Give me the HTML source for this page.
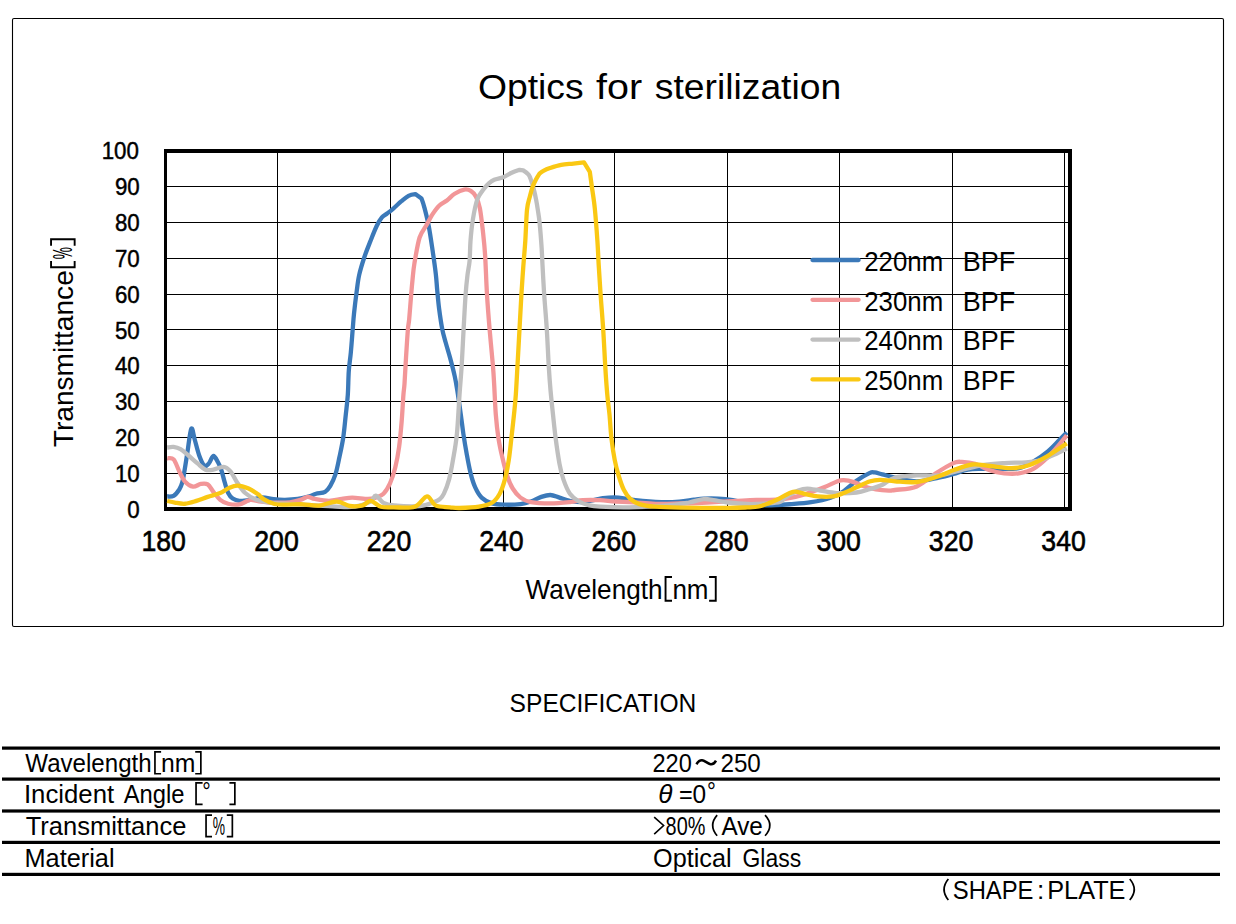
<!DOCTYPE html>
<html><head><meta charset="utf-8"><title>Optics for sterilization</title>
<style>html,body{margin:0;padding:0;background:#fff;}body{width:1236px;height:924px;position:relative;overflow:hidden;font-family:"Liberation Sans",sans-serif;}</style>
</head><body>
<svg width="1236" height="924" viewBox="0 0 1236 924" style="position:absolute;left:0;top:0">
<rect x="12.5" y="18.5" width="1211" height="608" rx="1.5" fill="#fff" stroke="#000" stroke-width="1.1"/>
<g fill="#000" shape-rendering="crispEdges"><rect x="166" y="186" width="902" height="1"/><rect x="166" y="222" width="902" height="1"/><rect x="166" y="258" width="902" height="1"/><rect x="166" y="294" width="902" height="1"/><rect x="166" y="329" width="902" height="1"/><rect x="166" y="365" width="902" height="1"/><rect x="166" y="401" width="902" height="1"/><rect x="166" y="437" width="902" height="1"/><rect x="166" y="473" width="902" height="1"/><rect x="277" y="152" width="1" height="355"/><rect x="390" y="152" width="1" height="355"/><rect x="503" y="152" width="1" height="355"/><rect x="614" y="152" width="1" height="355"/><rect x="727" y="152" width="1" height="355"/><rect x="839" y="152" width="1" height="355"/><rect x="952" y="152" width="1" height="355"/><rect x="1064" y="152" width="1" height="355"/></g>
<g fill="#000" shape-rendering="crispEdges"><rect x="164" y="149" width="908" height="4"/><rect x="164" y="507" width="908" height="4"/><rect x="164" y="149" width="3" height="361"/><rect x="1068" y="149" width="4" height="361"/></g>
<g><path d="M167.20,496.50 C168.27,496.38 171.58,496.97 173.60,495.80 C175.62,494.63 177.87,491.68 179.30,489.50 C180.73,487.32 181.35,485.72 182.20,482.70 C183.05,479.68 183.55,476.32 184.40,471.40 C185.25,466.48 186.16,460.31 187.30,453.20 C188.44,446.09 190.02,431.03 191.25,428.75 C192.48,426.47 193.38,435.04 194.70,439.50 C196.02,443.96 197.60,451.13 199.20,455.50 C200.80,459.87 202.68,464.38 204.30,465.70 C205.92,467.02 207.38,465.02 208.90,463.40 C210.42,461.78 211.88,456.18 213.40,456.00 C214.92,455.82 216.67,459.93 218.00,462.30 C219.33,464.67 220.27,466.80 221.40,470.20 C222.53,473.60 223.67,478.90 224.80,482.70 C225.93,486.50 226.88,490.35 228.20,493.00 C229.52,495.65 230.82,497.28 232.70,498.60 C234.58,499.92 236.47,500.70 239.50,500.90 C242.53,501.10 247.10,500.37 250.90,499.80 C254.70,499.23 258.52,497.60 262.30,497.50 C266.08,497.40 269.82,498.82 273.60,499.20 C277.38,499.58 280.97,499.85 285.00,499.80 C289.03,499.75 293.72,499.48 297.80,498.90 C301.88,498.32 306.47,497.17 309.50,496.30 C312.53,495.43 313.40,494.45 316.00,493.70 C318.60,492.95 322.72,493.10 325.10,491.80 C327.48,490.50 328.57,488.83 330.30,485.90 C332.03,482.97 333.98,478.97 335.50,474.20 C337.02,469.43 338.12,463.35 339.40,457.30 C340.68,451.25 342.13,445.03 343.20,437.90 C344.27,430.77 345.03,421.65 345.80,414.50 C346.57,407.35 347.30,402.27 347.80,395.00 C348.30,387.73 348.30,377.95 348.80,370.90 C349.30,363.85 350.15,359.62 350.80,352.70 C351.45,345.78 352.17,335.88 352.70,329.40 C353.23,322.92 353.35,320.03 354.00,313.80 C354.65,307.57 355.73,298.48 356.60,292.00 C357.47,285.52 357.90,280.73 359.20,274.90 C360.50,269.07 362.55,262.58 364.40,257.00 C366.25,251.42 368.23,246.60 370.30,241.40 C372.37,236.20 374.87,229.80 376.80,225.80 C378.73,221.80 380.18,219.45 381.90,217.40 C383.62,215.35 385.15,215.02 387.10,213.50 C389.05,211.98 391.22,210.35 393.60,208.30 C395.98,206.25 398.92,203.28 401.40,201.20 C403.88,199.12 406.18,196.98 408.50,195.80 C410.82,194.62 415.30,194.10 415.30,194.10 C415.30,194.10 421.50,198.60 421.50,198.60 C421.50,198.60 423.20,203.07 424.40,207.60 C425.60,212.13 427.33,218.65 428.70,225.80 C430.07,232.95 431.42,242.48 432.60,250.50 C433.78,258.52 435.03,267.32 435.80,273.90 C436.57,280.48 436.65,284.22 437.20,290.00 C437.75,295.78 438.25,302.03 439.10,308.60 C439.95,315.17 441.22,323.78 442.30,329.40 C443.38,335.02 444.30,337.55 445.60,342.30 C446.90,347.05 448.58,352.27 450.10,357.90 C451.62,363.53 453.50,370.68 454.70,376.10 C455.90,381.52 456.28,384.00 457.30,390.40 C458.32,396.80 459.78,407.23 460.80,414.50 C461.82,421.77 462.43,427.52 463.40,434.00 C464.37,440.48 465.42,446.92 466.60,453.40 C467.78,459.88 469.08,467.27 470.50,472.90 C471.92,478.53 473.25,483.08 475.10,487.20 C476.95,491.32 478.80,494.90 481.60,497.60 C484.40,500.30 488.02,502.22 491.90,503.40 C495.78,504.58 500.13,504.58 504.90,504.70 C509.67,504.82 516.17,504.63 520.50,504.10 C524.83,503.57 527.43,502.70 530.90,501.50 C534.37,500.30 538.05,497.98 541.30,496.90 C544.55,495.82 547.37,494.88 550.40,495.00 C553.43,495.12 556.25,496.63 559.50,497.60 C562.75,498.57 566.00,500.05 569.90,500.80 C573.80,501.55 577.38,502.53 582.90,502.10 C588.42,501.67 597.05,498.95 603.00,498.20 C608.95,497.45 613.18,497.27 618.60,497.60 C624.02,497.93 628.37,499.45 635.50,500.20 C642.63,500.95 654.08,501.87 661.40,502.10 C668.72,502.33 673.97,502.02 679.40,501.60 C684.83,501.18 689.95,500.10 694.00,499.60 C698.05,499.10 699.65,498.77 703.70,498.60 C707.75,498.43 713.45,498.35 718.30,498.60 C723.15,498.85 727.52,499.28 732.80,500.10 C738.08,500.92 744.48,502.62 750.00,503.50 C755.52,504.38 758.93,505.30 765.90,505.40 C772.87,505.50 784.25,504.63 791.80,504.10 C799.35,503.57 804.73,503.27 811.20,502.20 C817.67,501.13 825.20,499.53 830.60,497.70 C836.00,495.87 839.28,494.02 843.60,491.20 C847.92,488.38 852.20,483.82 856.50,480.80 C860.80,477.78 866.38,474.50 869.40,473.10 C872.42,471.70 872.43,472.18 874.60,472.40 C876.77,472.62 879.00,473.53 882.40,474.40 C885.80,475.27 889.27,476.45 895.00,477.60 C900.73,478.75 909.52,481.30 916.80,481.30 C924.08,481.30 932.62,478.82 938.70,477.60 C944.78,476.38 948.45,475.33 953.30,474.00 C958.15,472.67 962.95,470.45 967.80,469.60 C972.65,468.75 977.55,469.02 982.40,468.90 C987.25,468.78 990.83,469.02 996.90,468.90 C1002.97,468.78 1012.73,469.42 1018.80,468.20 C1024.87,466.98 1028.45,464.40 1033.30,461.60 C1038.15,458.80 1043.52,455.03 1047.90,451.40 C1052.28,447.77 1056.45,442.95 1059.60,439.80 C1062.75,436.65 1065.60,433.72 1066.80,432.50" fill="none" stroke="#3B79B9" stroke-width="4.3" stroke-linejoin="round" stroke-linecap="butt"/>
<path d="M167.20,458.30 C168.27,458.48 171.58,457.22 173.60,459.40 C175.62,461.58 177.40,467.70 179.30,471.40 C181.20,475.10 182.72,479.05 185.00,481.60 C187.28,484.15 190.35,486.32 193.00,486.70 C195.65,487.08 198.45,484.28 200.90,483.90 C203.35,483.52 205.62,483.08 207.70,484.40 C209.78,485.72 211.32,489.23 213.40,491.80 C215.48,494.37 217.73,497.81 220.20,499.80 C222.67,501.79 224.98,503.00 228.20,503.75 C231.42,504.50 235.83,504.94 239.50,504.30 C243.17,503.66 246.97,500.40 250.20,499.90 C253.43,499.40 254.77,500.85 258.90,501.30 C263.03,501.75 269.82,502.43 275.00,502.60 C280.18,502.77 285.63,502.80 290.00,502.30 C294.37,501.80 298.25,500.52 301.20,499.60 C304.15,498.68 305.40,496.90 307.70,496.80 C310.00,496.70 311.45,498.32 315.00,499.00 C318.55,499.68 324.52,500.92 329.00,500.90 C333.48,500.88 338.02,499.45 341.90,498.90 C345.78,498.35 347.97,497.60 352.30,497.60 C356.63,497.60 364.00,498.90 367.90,498.90 C371.80,498.90 373.10,498.47 375.70,497.60 C378.30,496.73 381.12,496.08 383.50,493.70 C385.88,491.32 388.05,487.63 390.00,483.30 C391.95,478.97 393.68,473.75 395.20,467.70 C396.72,461.65 398.02,454.78 399.10,447.00 C400.18,439.22 400.98,429.67 401.70,421.00 C402.42,412.33 402.93,401.18 403.40,395.00 C403.87,388.82 404.07,390.08 404.50,383.90 C404.93,377.72 405.43,366.98 406.00,357.90 C406.57,348.82 407.37,335.88 407.90,329.40 C408.43,322.92 408.65,324.85 409.20,319.00 C409.75,313.15 410.65,300.80 411.20,294.30 C411.75,287.80 411.97,285.13 412.50,280.00 C413.03,274.87 413.22,270.58 414.40,263.50 C415.58,256.42 417.65,243.78 419.60,237.50 C421.55,231.22 423.93,229.68 426.10,225.80 C428.27,221.92 430.43,217.55 432.60,214.20 C434.77,210.85 436.72,207.98 439.10,205.70 C441.48,203.42 444.30,202.48 446.90,200.50 C449.50,198.52 451.80,195.62 454.70,193.80 C457.60,191.98 461.62,190.08 464.30,189.60 C466.98,189.12 468.85,189.70 470.80,190.90 C472.75,192.10 474.48,193.88 476.00,196.80 C477.52,199.72 478.72,202.35 479.90,208.40 C481.08,214.45 482.23,225.33 483.10,233.10 C483.97,240.87 484.45,244.75 485.10,255.00 C485.75,265.25 486.25,282.22 487.00,294.60 C487.75,306.98 488.62,317.50 489.60,329.30 C490.58,341.10 492.13,356.12 492.90,365.40 C493.67,374.68 493.72,376.82 494.20,385.00 C494.68,393.18 495.10,405.68 495.80,414.50 C496.50,423.32 497.32,430.77 498.40,437.90 C499.48,445.03 500.78,450.82 502.30,457.30 C503.82,463.78 505.77,471.60 507.50,476.80 C509.23,482.00 510.53,485.03 512.70,488.50 C514.87,491.97 517.47,495.33 520.50,497.60 C523.53,499.87 525.92,501.13 530.90,502.10 C535.88,503.07 543.90,503.40 550.40,503.40 C556.90,503.40 564.48,502.63 569.90,502.10 C575.32,501.57 577.88,500.52 582.90,500.20 C587.92,499.88 594.48,499.98 600.00,500.20 C605.52,500.42 609.02,501.07 616.00,501.50 C622.98,501.93 634.57,502.38 641.90,502.80 C649.23,503.22 653.65,503.88 660.00,504.00 C666.35,504.12 672.17,503.75 680.00,503.50 C687.83,503.25 696.58,502.98 707.00,502.50 C717.42,502.02 734.17,501.02 742.50,500.60 C750.83,500.18 751.33,500.17 757.00,500.00 C762.67,499.83 771.78,499.77 776.50,499.60 C781.22,499.43 780.60,499.87 785.30,499.00 C790.00,498.13 798.23,496.35 804.70,494.40 C811.17,492.45 818.70,489.45 824.10,487.30 C829.50,485.15 833.85,482.68 837.10,481.50 C840.35,480.32 840.80,480.10 843.60,480.20 C846.40,480.30 850.67,481.13 853.90,482.10 C857.13,483.07 859.33,484.80 863.00,486.00 C866.67,487.20 871.58,488.53 875.90,489.30 C880.22,490.07 885.72,490.48 888.90,490.60 C892.08,490.72 890.35,490.70 895.00,490.00 C899.65,489.30 910.00,489.18 916.80,486.40 C923.60,483.62 929.72,477.18 935.80,473.30 C941.88,469.42 948.93,465.00 953.30,463.10 C957.67,461.20 958.37,461.78 962.00,461.90 C965.63,462.02 970.48,462.40 975.10,463.80 C979.72,465.20 984.85,468.72 989.70,470.30 C994.55,471.88 999.35,472.80 1004.20,473.30 C1009.05,473.80 1013.95,474.03 1018.80,473.30 C1023.65,472.57 1028.45,471.58 1033.30,468.90 C1038.15,466.22 1043.52,461.33 1047.90,457.20 C1052.28,453.07 1056.45,447.73 1059.60,444.10 C1062.75,440.47 1065.60,436.85 1066.80,435.40" fill="none" stroke="#F29698" stroke-width="4.3" stroke-linejoin="round" stroke-linecap="butt"/>
<path d="M167.20,447.50 C168.27,447.40 171.38,446.62 173.60,446.90 C175.82,447.18 178.03,447.77 180.50,449.20 C182.97,450.63 185.57,453.13 188.40,455.50 C191.23,457.87 194.65,461.03 197.50,463.40 C200.35,465.77 202.85,468.65 205.50,469.70 C208.15,470.75 210.38,470.18 213.40,469.70 C216.42,469.22 220.75,466.52 223.60,466.80 C226.45,467.08 228.22,468.75 230.50,471.40 C232.78,474.05 234.85,479.10 237.30,482.70 C239.75,486.30 241.98,490.15 245.20,493.00 C248.42,495.85 251.87,498.10 256.60,499.80 C261.33,501.50 266.37,502.45 273.60,503.20 C280.83,503.95 289.68,503.72 300.00,504.30 C310.32,504.88 326.35,506.30 335.50,506.70 C344.65,507.10 349.07,507.57 354.90,506.70 C360.73,505.83 367.03,503.35 370.50,501.50 C373.97,499.65 373.53,495.38 375.70,495.60 C377.87,495.82 380.47,501.17 383.50,502.80 C386.53,504.43 387.83,504.87 393.90,505.40 C399.97,505.93 412.97,506.65 419.90,506.00 C426.83,505.35 432.15,502.68 435.50,501.50 C438.85,500.32 438.60,500.20 440.00,498.90 C441.40,497.60 442.38,496.95 443.90,493.70 C445.42,490.45 447.58,485.03 449.10,479.40 C450.62,473.77 451.70,467.47 453.00,459.90 C454.30,452.33 455.82,444.82 456.90,434.00 C457.98,423.18 458.70,406.43 459.50,395.00 C460.30,383.57 461.02,376.35 461.70,365.40 C462.38,354.45 462.95,341.10 463.60,329.30 C464.25,317.50 464.95,303.65 465.60,294.60 C466.25,285.55 466.83,280.62 467.50,275.00 C468.17,269.38 469.10,266.58 469.60,260.90 C470.10,255.22 469.97,247.72 470.50,240.90 C471.03,234.08 471.67,226.92 472.80,220.00 C473.93,213.08 475.47,204.57 477.30,199.40 C479.13,194.23 481.83,191.70 483.80,189.00 C485.77,186.30 487.37,184.73 489.10,183.20 C490.83,181.67 491.85,180.78 494.20,179.80 C496.55,178.82 500.38,178.43 503.20,177.30 C506.02,176.17 508.37,174.25 511.10,173.00 C513.83,171.75 519.60,169.80 519.60,169.80 C519.60,169.80 523.20,170.30 523.20,170.30 C523.20,170.30 527.32,172.83 528.70,174.70 C530.08,176.57 530.65,179.05 531.50,181.50 C532.35,183.95 533.03,186.38 533.80,189.40 C534.57,192.42 535.43,196.20 536.10,199.60 C536.77,203.00 537.22,205.95 537.80,209.80 C538.38,213.65 538.97,216.43 539.60,222.70 C540.23,228.97 541.12,240.35 541.60,247.40 C542.08,254.45 542.07,257.13 542.50,265.00 C542.93,272.87 543.48,283.88 544.20,294.60 C544.92,305.32 546.05,317.50 546.80,329.30 C547.55,341.10 548.08,355.28 548.70,365.40 C549.32,375.52 549.78,381.82 550.50,390.00 C551.22,398.18 552.15,406.52 553.00,414.50 C553.85,422.48 554.52,429.68 555.60,437.90 C556.68,446.12 558.20,456.88 559.50,463.80 C560.80,470.72 561.67,474.42 563.40,479.40 C565.13,484.38 567.30,490.02 569.90,493.70 C572.50,497.38 575.75,499.55 579.00,501.50 C582.25,503.45 585.90,504.53 589.40,505.40 C592.90,506.27 593.40,506.38 600.00,506.70 C606.60,507.02 617.68,507.52 629.00,507.30 C640.32,507.08 657.90,506.20 667.90,505.40 C677.90,504.60 683.03,503.55 689.00,502.50 C694.97,501.45 699.63,499.50 703.70,499.10 C707.77,498.70 709.35,499.53 713.40,500.10 C717.45,500.67 722.33,501.85 728.00,502.50 C733.67,503.15 740.93,503.83 747.40,504.00 C753.87,504.17 761.37,503.83 766.80,503.50 C772.23,503.17 776.92,502.97 780.00,502.00 C783.08,501.03 782.25,499.60 785.30,497.70 C788.35,495.80 794.63,492.12 798.30,490.60 C801.97,489.08 803.63,488.60 807.30,488.60 C810.97,488.60 815.33,489.85 820.30,490.60 C825.27,491.35 831.07,492.78 837.10,493.10 C843.13,493.42 851.12,493.13 856.50,492.50 C861.88,491.87 865.08,490.60 869.40,489.30 C873.72,488.00 878.13,486.65 882.40,484.70 C886.67,482.75 889.27,479.15 895.00,477.60 C900.73,476.05 909.52,475.77 916.80,475.40 C924.08,475.03 931.42,476.25 938.70,475.40 C945.98,474.55 953.22,472.00 960.50,470.30 C967.78,468.60 975.12,466.40 982.40,465.20 C989.68,464.00 996.92,463.58 1004.20,463.10 C1011.48,462.62 1020.03,462.80 1026.10,462.30 C1032.17,461.80 1035.75,461.43 1040.60,460.10 C1045.45,458.77 1050.83,456.23 1055.20,454.30 C1059.57,452.37 1064.87,449.47 1066.80,448.50" fill="none" stroke="#BFBFBF" stroke-width="4.3" stroke-linejoin="round" stroke-linecap="butt"/>
<path d="M167.20,500.90 C168.47,501.18 171.83,502.12 174.80,502.60 C177.77,503.08 181.40,504.03 185.00,503.75 C188.60,503.47 192.62,502.04 196.40,500.90 C200.18,499.76 203.73,498.22 207.70,496.90 C211.67,495.58 216.78,494.42 220.20,493.00 C223.62,491.58 225.35,489.63 228.20,488.40 C231.05,487.17 233.90,485.60 237.30,485.60 C240.70,485.60 245.20,486.98 248.60,488.40 C252.00,489.82 255.13,492.27 257.70,494.10 C260.27,495.93 261.20,497.75 264.00,499.40 C266.80,501.05 270.73,503.13 274.50,504.00 C278.27,504.87 281.88,504.55 286.60,504.60 C291.32,504.65 297.40,504.13 302.80,504.30 C308.20,504.47 313.33,506.07 319.00,505.60 C324.67,505.13 331.68,501.43 336.80,501.50 C341.92,501.57 345.38,505.35 349.70,506.00 C354.02,506.65 359.23,506.27 362.70,505.40 C366.17,504.53 367.47,500.58 370.50,500.80 C373.53,501.02 377.00,505.62 380.90,506.70 C384.80,507.78 388.27,507.30 393.90,507.30 C399.53,507.30 409.18,508.53 414.70,506.70 C420.22,504.87 423.53,496.52 427.00,496.30 C430.47,496.08 431.67,503.57 435.50,505.40 C439.33,507.23 446.00,506.87 450.00,507.30 C454.00,507.73 454.67,508.10 459.50,508.00 C464.33,507.90 473.60,507.57 479.00,506.70 C484.40,505.83 488.45,504.97 491.90,502.80 C495.35,500.63 497.53,497.60 499.70,493.70 C501.87,489.80 503.38,485.03 504.90,479.40 C506.42,473.77 507.72,466.82 508.80,459.90 C509.88,452.98 510.53,445.47 511.40,437.90 C512.27,430.33 513.27,421.65 514.00,414.50 C514.73,407.35 515.22,403.18 515.80,395.00 C516.38,386.82 516.88,376.35 517.50,365.40 C518.12,354.45 518.85,341.10 519.50,329.30 C520.15,317.50 520.78,304.82 521.40,294.60 C522.02,284.38 522.55,276.95 523.20,268.00 C523.85,259.05 524.67,250.60 525.30,240.90 C525.93,231.20 526.25,217.15 527.00,209.80 C527.75,202.45 528.85,200.67 529.80,196.80 C530.75,192.93 531.65,189.52 532.70,186.60 C533.75,183.68 534.97,181.47 536.10,179.30 C537.23,177.13 539.50,173.60 539.50,173.60 C539.50,173.60 541.65,171.73 543.40,170.80 C545.15,169.87 547.03,169.00 550.00,168.00 C552.97,167.00 557.30,165.53 561.20,164.80 C565.10,164.07 569.60,164.00 573.40,163.60 C577.20,163.20 584.00,162.40 584.00,162.40 C584.00,162.40 589.80,171.80 589.80,171.80 C589.80,171.80 590.97,180.30 591.80,186.40 C592.63,192.50 593.87,199.32 594.80,208.40 C595.73,217.48 596.75,231.47 597.40,240.90 C598.05,250.33 598.17,256.05 598.70,265.00 C599.23,273.95 599.85,283.88 600.60,294.60 C601.35,305.32 602.43,317.50 603.20,329.30 C603.97,341.10 604.65,356.12 605.20,365.40 C605.75,374.68 606.07,379.23 606.50,385.00 C606.93,390.77 607.30,395.08 607.80,400.00 C608.30,404.92 608.90,408.18 609.50,414.50 C610.10,420.82 610.53,430.33 611.40,437.90 C612.27,445.47 613.50,453.63 614.70,459.90 C615.90,466.17 617.08,470.52 618.60,475.50 C620.12,480.48 621.85,485.90 623.80,489.80 C625.75,493.70 627.70,496.52 630.30,498.90 C632.90,501.28 635.30,502.80 639.40,504.10 C643.50,505.40 647.98,506.10 654.90,506.70 C661.82,507.30 668.72,507.50 680.90,507.70 C693.08,507.90 716.92,507.95 728.00,507.90 C739.08,507.85 742.23,507.63 747.40,507.40 C752.57,507.17 755.57,507.15 759.00,506.50 C762.43,505.85 764.50,504.88 768.00,503.50 C771.50,502.12 775.82,500.15 780.00,498.20 C784.18,496.25 788.98,492.53 793.10,491.80 C797.22,491.07 800.60,493.03 804.70,493.80 C808.80,494.57 812.95,495.97 817.70,496.40 C822.45,496.83 828.88,496.95 833.20,496.40 C837.52,495.85 839.72,494.62 843.60,493.10 C847.48,491.58 852.20,489.23 856.50,487.30 C860.80,485.37 865.52,482.75 869.40,481.50 C873.28,480.25 875.53,479.83 879.80,479.80 C884.07,479.77 888.83,480.93 895.00,481.30 C901.17,481.67 909.52,482.85 916.80,482.00 C924.08,481.15 932.62,478.15 938.70,476.20 C944.78,474.25 947.72,472.25 953.30,470.30 C958.88,468.35 966.13,465.22 972.20,464.50 C978.27,463.78 983.15,465.38 989.70,466.00 C996.25,466.62 1004.95,468.33 1011.50,468.20 C1018.05,468.07 1022.93,467.27 1029.00,465.20 C1035.07,463.13 1041.60,459.43 1047.90,455.80 C1054.20,452.17 1063.65,445.47 1066.80,443.40" fill="none" stroke="#FAC813" stroke-width="4.3" stroke-linejoin="round" stroke-linecap="butt"/>
</g>
<g><line x1="812.5" y1="260.0" x2="858.6" y2="260.0" stroke="#3B79B9" stroke-width="4.3" stroke-linecap="round"/><line x1="812.5" y1="299.8" x2="858.6" y2="299.8" stroke="#F29698" stroke-width="4.3" stroke-linecap="round"/><line x1="812.5" y1="339.6" x2="858.6" y2="339.6" stroke="#BFBFBF" stroke-width="4.3" stroke-linecap="round"/><line x1="812.5" y1="379.4" x2="858.6" y2="379.4" stroke="#FAC813" stroke-width="4.3" stroke-linecap="round"/></g>
<g fill="#000"><rect x="2" y="746.50" width="1218" height="3.2"/><rect x="2" y="777.50" width="1218" height="3.2"/><rect x="2" y="809.40" width="1218" height="3.2"/><rect x="2" y="840.80" width="1218" height="3.2"/><rect x="2" y="872.80" width="1218" height="3.2"/></g>
<path d="M696.4,764.2 C698.3,761.3 700.3,760.2 702,760.3 C704.6,760.4 707.5,763.6 710.5,764.2 C712.8,764.6 714.7,763.1 716,760.7" fill="none" stroke="#000" stroke-width="2.5" stroke-linecap="butt"/>
<path d="M717.15,815.15 Q708.15,825.45 717.15,835.75" fill="none" stroke="#000" stroke-width="1.7"/><path d="M765.05,815.15 Q774.65,825.45 765.05,835.75" fill="none" stroke="#000" stroke-width="1.7"/><path d="M948.35,878.95 Q939.75,889.45 948.35,899.95" fill="none" stroke="#000" stroke-width="1.7"/><path d="M1129.75,878.95 Q1138.75,889.45 1129.75,899.95" fill="none" stroke="#000" stroke-width="1.7"/>
<path d="M672.00,576.95 H665.55 V600.75 H672.00" fill="none" stroke="#000" stroke-width="1.9" stroke-linejoin="miter"/><path d="M709.10,576.95 H715.75 V600.75 H709.10" fill="none" stroke="#000" stroke-width="1.9" stroke-linejoin="miter"/><path d="M51.05,261.00 V267.25 H74.65 V261.00" fill="none" stroke="#000" stroke-width="1.9" stroke-linejoin="miter"/><path d="M51.05,245.80 V239.25 H74.65 V245.80" fill="none" stroke="#000" stroke-width="1.9" stroke-linejoin="miter"/><path d="M202.60,782.95 H196.05 V804.35 H202.60" fill="none" stroke="#000" stroke-width="1.7" stroke-linejoin="miter"/><path d="M229.40,782.95 H234.85 V804.35 H229.40" fill="none" stroke="#000" stroke-width="1.7" stroke-linejoin="miter"/><path d="M161.10,751.95 H154.95 V773.75 H161.10" fill="none" stroke="#000" stroke-width="1.7" stroke-linejoin="miter"/><path d="M195.20,751.95 H200.85 V773.75 H195.20" fill="none" stroke="#000" stroke-width="1.7" stroke-linejoin="miter"/><path d="M212.00,815.05 H206.05 V836.65 H212.00" fill="none" stroke="#000" stroke-width="1.7" stroke-linejoin="miter"/><path d="M226.80,815.05 H232.35 V836.65 H226.80" fill="none" stroke="#000" stroke-width="1.7" stroke-linejoin="miter"/>
<path d="M654.2,817.1 L663.6,825.5 L654.2,834.1" fill="none" stroke="#000" stroke-width="1.6" stroke-linejoin="miter"/>
<g fill="#000"><text transform="translate(478.00 98.60) scale(1.0505 1)" style="font-family:'Liberation Sans', sans-serif;font-size:35.5px">Optics</text><text transform="translate(596.00 98.60) scale(1.1122 1)" style="font-family:'Liberation Sans', sans-serif;font-size:35.5px">for</text><text transform="translate(654.85 98.60) scale(1.0500 1)" style="font-family:'Liberation Sans', sans-serif;font-size:35.5px">sterilization</text><text transform="translate(127.30 517.60) scale(0.9500 1)" style="font-family:'Liberation Sans', sans-serif;font-size:23.5px;stroke:#000;stroke-width:0.45px">0</text><text transform="translate(114.95 481.79) scale(0.9500 1)" style="font-family:'Liberation Sans', sans-serif;font-size:23.5px;stroke:#000;stroke-width:0.45px">10</text><text transform="translate(114.95 445.97) scale(0.9500 1)" style="font-family:'Liberation Sans', sans-serif;font-size:23.5px;stroke:#000;stroke-width:0.45px">20</text><text transform="translate(114.95 410.16) scale(0.9500 1)" style="font-family:'Liberation Sans', sans-serif;font-size:23.5px;stroke:#000;stroke-width:0.45px">30</text><text transform="translate(114.95 374.34) scale(0.9500 1)" style="font-family:'Liberation Sans', sans-serif;font-size:23.5px;stroke:#000;stroke-width:0.45px">40</text><text transform="translate(114.95 338.52) scale(0.9500 1)" style="font-family:'Liberation Sans', sans-serif;font-size:23.5px;stroke:#000;stroke-width:0.45px">50</text><text transform="translate(114.95 302.71) scale(0.9500 1)" style="font-family:'Liberation Sans', sans-serif;font-size:23.5px;stroke:#000;stroke-width:0.45px">60</text><text transform="translate(114.95 266.89) scale(0.9500 1)" style="font-family:'Liberation Sans', sans-serif;font-size:23.5px;stroke:#000;stroke-width:0.45px">70</text><text transform="translate(114.95 231.08) scale(0.9500 1)" style="font-family:'Liberation Sans', sans-serif;font-size:23.5px;stroke:#000;stroke-width:0.45px">80</text><text transform="translate(114.95 195.26) scale(0.9500 1)" style="font-family:'Liberation Sans', sans-serif;font-size:23.5px;stroke:#000;stroke-width:0.45px">90</text><text transform="translate(101.65 159.45) scale(0.9500 1)" style="font-family:'Liberation Sans', sans-serif;font-size:23.5px;stroke:#000;stroke-width:0.45px">100</text><text transform="translate(141.38 550.50) scale(0.9300 1)" style="font-family:'Liberation Sans', sans-serif;font-size:28.7px;stroke:#000;stroke-width:0.6px">180</text><text transform="translate(254.28 550.50) scale(0.9300 1)" style="font-family:'Liberation Sans', sans-serif;font-size:28.7px;stroke:#000;stroke-width:0.6px">200</text><text transform="translate(366.71 550.50) scale(0.9300 1)" style="font-family:'Liberation Sans', sans-serif;font-size:28.7px;stroke:#000;stroke-width:0.6px">220</text><text transform="translate(479.14 550.50) scale(0.9300 1)" style="font-family:'Liberation Sans', sans-serif;font-size:28.7px;stroke:#000;stroke-width:0.6px">240</text><text transform="translate(591.57 550.50) scale(0.9300 1)" style="font-family:'Liberation Sans', sans-serif;font-size:28.7px;stroke:#000;stroke-width:0.6px">260</text><text transform="translate(704.00 550.50) scale(0.9300 1)" style="font-family:'Liberation Sans', sans-serif;font-size:28.7px;stroke:#000;stroke-width:0.6px">280</text><text transform="translate(816.43 550.50) scale(0.9300 1)" style="font-family:'Liberation Sans', sans-serif;font-size:28.7px;stroke:#000;stroke-width:0.6px">300</text><text transform="translate(928.86 550.50) scale(0.9300 1)" style="font-family:'Liberation Sans', sans-serif;font-size:28.7px;stroke:#000;stroke-width:0.6px">320</text><text transform="translate(1041.29 550.50) scale(0.9300 1)" style="font-family:'Liberation Sans', sans-serif;font-size:28.7px;stroke:#000;stroke-width:0.6px">340</text><text transform="translate(525.50 598.50) scale(0.9503 1)" style="font-family:'Liberation Sans', sans-serif;font-size:27.5px">Wavelength</text><text transform="translate(672.41 598.60) scale(0.9457 1)" style="font-family:'Liberation Sans', sans-serif;font-size:27.5px">nm</text><g transform="translate(72.8 446.2) rotate(-90)"><text transform="translate(-1.02 0.00) scale(1.0222 1)" style="font-family:'Liberation Sans', sans-serif;font-size:27.5px">Transmittance</text></g><g transform="translate(71.6 446.2) rotate(-90)"><text transform="translate(186.90 0.00) scale(0.4957 1)" style="font-family:'Liberation Sans', sans-serif;font-size:27.5px">%</text></g><text transform="translate(864.26 270.70) scale(0.9390 1)" style="font-family:'Liberation Sans', sans-serif;font-size:27.5px">220nm</text><text transform="translate(962.64 270.70) scale(0.9824 1)" style="font-family:'Liberation Sans', sans-serif;font-size:27.5px">BPF</text><text transform="translate(864.26 310.50) scale(0.9390 1)" style="font-family:'Liberation Sans', sans-serif;font-size:27.5px">230nm</text><text transform="translate(962.64 310.50) scale(0.9824 1)" style="font-family:'Liberation Sans', sans-serif;font-size:27.5px">BPF</text><text transform="translate(864.26 350.30) scale(0.9390 1)" style="font-family:'Liberation Sans', sans-serif;font-size:27.5px">240nm</text><text transform="translate(962.64 350.30) scale(0.9824 1)" style="font-family:'Liberation Sans', sans-serif;font-size:27.5px">BPF</text><text transform="translate(864.26 390.10) scale(0.9390 1)" style="font-family:'Liberation Sans', sans-serif;font-size:27.5px">250nm</text><text transform="translate(962.64 390.10) scale(0.9824 1)" style="font-family:'Liberation Sans', sans-serif;font-size:27.5px">BPF</text><text transform="translate(509.58 711.80) scale(0.9246 1)" style="font-family:'Liberation Sans', sans-serif;font-size:26.6px">SPECIFICATION</text><text transform="translate(25.30 771.70) scale(0.9646 1)" style="font-family:'Liberation Sans', sans-serif;font-size:25.0px">Wavelength</text><text transform="translate(161.02 771.70) scale(0.9903 1)" style="font-family:'Liberation Sans', sans-serif;font-size:25.0px">nm</text><text transform="translate(23.94 802.90) scale(1.0306 1)" style="font-family:'Liberation Sans', sans-serif;font-size:25.0px">Incident</text><text transform="translate(123.70 802.90) scale(0.9508 1)" style="font-family:'Liberation Sans', sans-serif;font-size:25.0px">Angle</text><text transform="translate(202.25 799.90) scale(0.8500 1)" style="font-family:'Liberation Sans', sans-serif;font-size:25.0px">°</text><text transform="translate(25.70 834.90) scale(1.0204 1)" style="font-family:'Liberation Sans', sans-serif;font-size:25.0px">Transmittance</text><text transform="translate(212.75 834.90) scale(0.5524 1)" style="font-family:'Liberation Sans', sans-serif;font-size:25.0px">%</text><text transform="translate(24.47 866.80) scale(1.0129 1)" style="font-family:'Liberation Sans', sans-serif;font-size:25.0px">Material</text><text transform="translate(652.46 771.60) scale(0.9400 1)" style="font-family:'Liberation Sans', sans-serif;font-size:25.1px">220</text><text transform="translate(720.43 771.60) scale(0.9650 1)" style="font-family:'Liberation Sans', sans-serif;font-size:25.1px">250</text><text transform="translate(658.15 802.90) scale(1.0462 1)" style="font-family:'Liberation Sans', sans-serif;font-style:italic;font-size:25.0px">θ</text><text transform="translate(679.06 802.90) scale(0.9385 1)" style="font-family:'Liberation Sans', sans-serif;font-size:25.0px">=</text><text transform="translate(692.52 802.90) scale(0.9750 1)" style="font-family:'Liberation Sans', sans-serif;font-size:25.1px">0</text><text transform="translate(706.91 799.90) scale(0.8875 1)" style="font-family:'Liberation Sans', sans-serif;font-size:25.0px">°</text><text transform="translate(665.61 834.90) scale(0.7918 1)" style="font-family:'Liberation Sans', sans-serif;font-size:25.1px">80%</text><text transform="translate(721.40 834.90) scale(0.9714 1)" style="font-family:'Liberation Sans', sans-serif;font-size:25.0px">Ave</text><text transform="translate(653.09 866.70) scale(1.0093 1)" style="font-family:'Liberation Sans', sans-serif;font-size:25.0px">Optical</text><text transform="translate(742.48 866.70) scale(0.9177 1)" style="font-family:'Liberation Sans', sans-serif;font-size:25.0px">Glass</text><text transform="translate(952.76 898.90) scale(0.9381 1)" style="font-family:'Liberation Sans', sans-serif;font-size:25.4px">SHAPE</text><text transform="translate(1037.03 898.90) scale(1.0333 1)" style="font-family:'Liberation Sans', sans-serif;font-size:25.4px">:</text><text transform="translate(1047.21 898.90) scale(0.9961 1)" style="font-family:'Liberation Sans', sans-serif;font-size:25.4px">PLATE</text></g>
</svg>
</body></html>
